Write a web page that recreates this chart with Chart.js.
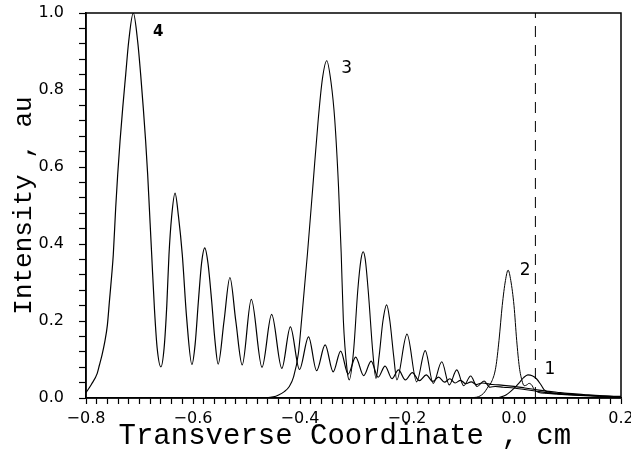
<!DOCTYPE html>
<html>
<head>
<meta charset="utf-8">
<script src="https://cdn.jsdelivr.net/npm/chart.js@4.4.1/dist/chart.umd.min.js"></script>
<style>
  html, body { margin: 0; padding: 0; background: #fff; }
  canvas { display: block; }
</style>
</head>
<body>
<canvas id="intensityChart" width="631" height="454"></canvas>
<script>
// curve 4 (far left, Airy-like)
const x4 = [-0.800, -0.790, -0.779, -0.775, -0.770, -0.765, -0.760, -0.756, -0.752, -0.749, -0.7445, -0.7408, -0.7364, -0.7314, -0.7258, -0.7202, -0.7116,
            -0.7034, -0.6978, -0.6929, -0.6885, -0.6847, -0.6816, -0.6772, -0.672, -0.667, -0.660,
            -0.654, -0.649, -0.6449, -0.640, -0.6336, -0.627, -0.620, -0.612, -0.602, -0.596, -0.590, -0.584, -0.578, -0.572, -0.565, -0.559, -0.553,
            -0.542, -0.531, -0.520, -0.508, -0.491, -0.471, -0.453, -0.434, -0.418, -0.401, -0.384, -0.369, -0.353, -0.338, -0.324, -0.310,
            -0.296, -0.281, -0.267, -0.254, -0.241, -0.228, -0.216, -0.203, -0.190, -0.177, -0.164, -0.152, -0.141, -0.130, -0.120, -0.110,
            -0.100, -0.090, -0.080, -0.070, -0.060, -0.040, -0.020, 0.000, 0.020, 0.040, 0.060, 0.080, 0.100, 0.130, 0.160, 0.200];
const y4 = [0.014, 0.035, 0.064, 0.085, 0.112, 0.145, 0.190, 0.255, 0.318, 0.372, 0.494, 0.580, 0.667, 0.753, 0.840, 0.926, 1.000,
            0.926, 0.840, 0.753, 0.667, 0.580, 0.494, 0.372, 0.230, 0.130, 0.081,
            0.130, 0.240, 0.372, 0.470, 0.532, 0.470, 0.372, 0.210, 0.087, 0.140, 0.250, 0.350, 0.390, 0.350, 0.250, 0.150, 0.088,
            0.200, 0.313, 0.200, 0.086, 0.256, 0.080, 0.217, 0.077, 0.185, 0.074, 0.159, 0.071, 0.138, 0.068, 0.122, 0.062,
            0.106, 0.058, 0.096, 0.054, 0.083, 0.050, 0.073, 0.047, 0.066, 0.045, 0.060, 0.043, 0.054, 0.041, 0.050, 0.039,
            0.046, 0.037, 0.042, 0.035, 0.039, 0.035, 0.033, 0.030, 0.026, 0.022, 0.018, 0.015, 0.012, 0.009, 0.006, 0.004];

// curve 3
const x3 = [-0.470, -0.450, -0.440, -0.430, -0.420, -0.412, -0.403, -0.397, -0.386, -0.376, -0.366, -0.358, -0.350, -0.342, -0.335, -0.328, -0.323, -0.319, -0.312, -0.308,
            -0.300, -0.292, -0.286, -0.282, -0.278, -0.272, -0.264, -0.258, -0.252, -0.245, -0.238, -0.232, -0.225, -0.219,
            -0.200, -0.182, -0.166, -0.151, -0.135, -0.121, -0.107, -0.094, -0.081, -0.069, -0.056, -0.045,
            -0.035, -0.020, 0.000, 0.020, 0.040, 0.060, 0.080, 0.100, 0.130, 0.160, 0.200];
const y3 = [0.000, 0.003, 0.008, 0.016, 0.030, 0.055, 0.116, 0.203, 0.376, 0.549, 0.722, 0.830, 0.876, 0.820, 0.722, 0.549, 0.376, 0.203, 0.073, 0.047,
            0.120, 0.280, 0.360, 0.380, 0.360, 0.270, 0.120, 0.051, 0.110, 0.200, 0.242, 0.200, 0.110, 0.047,
            0.166, 0.042, 0.123, 0.038, 0.094, 0.034, 0.073, 0.032, 0.057, 0.030, 0.044, 0.028,
            0.030, 0.028, 0.026, 0.022, 0.018, 0.014, 0.011, 0.009, 0.007, 0.005, 0.003];

// curve 2
const x2 = [-0.090, -0.070, -0.057, -0.048, -0.041, -0.034, -0.028, -0.022, -0.016, -0.011, -0.006, 0.000, 0.005, 0.010, 0.015, 0.019, 0.024, 0.028, 0.033, 0.038, 0.045,
            0.060, 0.080, 0.100, 0.130, 0.160, 0.200];
const y2 = [0.000, 0.002, 0.012, 0.030, 0.045, 0.080, 0.150, 0.240, 0.305, 0.332, 0.305, 0.240, 0.150, 0.080, 0.045, 0.032, 0.034, 0.038, 0.034, 0.022, 0.015,
            0.012, 0.010, 0.008, 0.006, 0.004, 0.002];

// curve 1
const x1 = [-0.030, -0.015, 0.000, 0.010, 0.018, 0.026, 0.034, 0.042, 0.050, 0.056, 0.065, 0.080, 0.100, 0.120, 0.150, 0.200];
const y1 = [0.000, 0.008, 0.025, 0.040, 0.053, 0.060, 0.058, 0.050, 0.035, 0.022, 0.015, 0.012, 0.010, 0.008, 0.006, 0.003];

// dashed marker line
const cutoffX = [0.04, 0.04];
const cutoffY = [0.0, 1.0];

// curve numbers
const curveNames = ['4', '3', '2', '1'];
const nameX = [-0.665, -0.313, 0.021, 0.067];
const nameY = [0.951, 0.856, 0.330, 0.073];

// tick labels
const xTickValues = [-0.8, -0.6, -0.4, -0.2, 0.0, 0.2];
const xTickLabels = ['\u22120.8', '\u22120.6', '\u22120.4', '\u22120.2', '0.0', '0.2'];
const yTickValues = [0.0, 0.2, 0.4, 0.6, 0.8, 1.0];
const yTickLabels = ['0.0', '0.2', '0.4', '0.6', '0.8', '1.0'];

function toPoints(xs, ys) {
    return xs.map((x, i) => ({ x: x, y: ys[i] }));
}

function lineSet(xs, ys, width) {
    return {
        data: toPoints(xs, ys),
        borderColor: '#000',
        borderWidth: width,
        pointRadius: 0,
        showLine: true,
        fill: false,
        cubicInterpolationMode: 'monotone'
    };
}

// finds the label for a tick value, '' for minor ticks
function labelFor(value, values, labels) {
    for (let i = 0; i < values.length; i++) {
        if (Math.abs(value - values[i]) < 1e-6) return labels[i];
    }
    return '';
}

// box around the plot + curve numbers
const framePlugin = {
    id: 'frame',
    afterDatasetsDraw(chart) {
        const ctx = chart.ctx;
        const area = chart.chartArea;
        const xs = chart.scales.x;
        const ys = chart.scales.y;
        ctx.save();
        ctx.strokeStyle = '#000';
        ctx.lineWidth = 1.5;
        ctx.strokeRect(area.left, area.top, area.right - area.left, area.bottom - area.top);
        ctx.fillStyle = '#000';
        ctx.textAlign = 'center';
        ctx.textBaseline = 'middle';
        curveNames.forEach((name, i) => {
            ctx.font = (name === '4' ? 'bold 15px' : '17px') + ' "DejaVu Sans"';
            ctx.fillText(name, xs.getPixelForValue(nameX[i]), ys.getPixelForValue(nameY[i]));
        });
        ctx.restore();
    }
};

const canvas = document.getElementById('intensityChart');

new Chart(canvas, {
    type: 'scatter',
    data: {
        datasets: [
            lineSet(x4, y4, 1.2),
            lineSet(x3, y3, 1.1),
            lineSet(x2, y2, 1.0),
            lineSet(x1, y1, 1.1),
            {
                data: toPoints(cutoffX, cutoffY),
                borderColor: '#000',
                borderWidth: 1,
                borderDash: [11, 8],
                pointRadius: 0,
                showLine: true,
                fill: false
            }
        ]
    },
    options: {
        responsive: false,
        animation: false,
        layout: {
            padding: { top: 13, right: 10, left: 0, bottom: 0 }
        },
        plugins: {
            legend: { display: false },
            tooltip: { enabled: false }
        },
        scales: {
            x: {
                type: 'linear',
                min: -0.8,
                max: 0.2,
                afterFit: function(scale) {
                    scale.height = 56;
                    scale.paddingLeft = 0;
                    scale.paddingRight = 0;
                },
                border: { color: '#000', width: 1.5 },
                grid: { drawOnChartArea: false, color: '#000', tickLength: 6, tickWidth: 1.2 },
                ticks: {
                    stepSize: 0.02,
                    autoSkip: false,
                    maxRotation: 0,
                    padding: 5,
                    color: '#000',
                    font: { family: '"DejaVu Sans"', size: 16 },
                    callback: function(value) { return labelFor(value, xTickValues, xTickLabels); }
                },
                title: {
                    display: true,
                    text: 'Transverse Coordinate , cm ',
                    color: '#000',
                    font: { family: '"Courier New", "Liberation Mono", monospace', size: 29 },
                    padding: { top: 0, bottom: 0 }
                }
            },
            y: {
                min: 0,
                max: 1.0,
                afterFit: function(scale) {
                    scale.width = 86;
                    scale.paddingTop = 0;
                    scale.paddingBottom = 0;
                },
                border: { color: '#000', width: 1.5 },
                grid: { drawOnChartArea: false, color: '#000', tickLength: 7, tickWidth: 1.2 },
                ticks: {
                    stepSize: 0.04,
                    autoSkip: false,
                    padding: 15,
                    color: '#000',
                    font: { family: '"DejaVu Sans"', size: 16 },
                    callback: function(value) { return labelFor(value, yTickValues, yTickLabels); }
                },
                title: {
                    display: true,
                    text: 'Intensity , au',
                    color: '#000',
                    font: { family: '"Courier New", "Liberation Mono", monospace', size: 26 },
                    padding: { top: 9, bottom: 0 }
                }
            }
        }
    },
    plugins: [framePlugin]
});
</script>
</body>
</html>
